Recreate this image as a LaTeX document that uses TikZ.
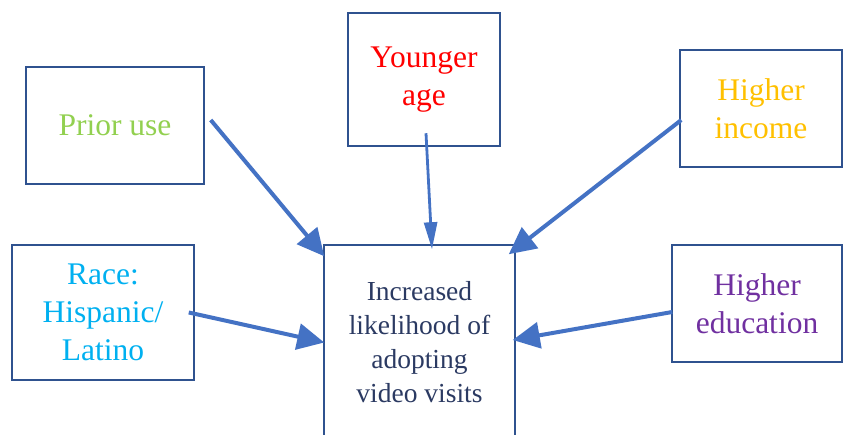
\documentclass[tikz,border=0pt]{standalone}
\usepackage{fontspec}
\setmainfont{Liberation Serif}
\usetikzlibrary{arrows.meta}
\definecolor{boxline}{HTML}{2F528F}
\definecolor{arrowblue}{HTML}{4472C4}
\definecolor{cgreen}{HTML}{92D050}
\definecolor{cred}{HTML}{FF0000}
\definecolor{cgold}{HTML}{FFC000}
\definecolor{ccyan}{HTML}{00B0F0}
\definecolor{cpurple}{HTML}{7030A0}
\definecolor{cnavy}{HTML}{2B3A62}
\tikzset{
  factor/.style={draw=boxline, line width=1.5pt, inner sep=0pt, align=center,
    font=\fontsize{31.5}{38}\selectfont},
  outcome/.style={draw=boxline, line width=1.5pt, inner sep=0pt, align=center,
    text=cnavy, font=\fontsize{27.5}{34}\selectfont},
  arr/.style={draw=arrowblue, line width=4pt, -{Triangle[length=27pt,width=26pt]}},
  thinarr/.style={draw=arrowblue, line width=2.8pt, -{Triangle[length=27pt,width=13pt]}}
}
\begin{document}
\begin{tikzpicture}[x=1pt,y=1pt]
\useasboundingbox (0,0) rectangle (843,434);
\node[factor, text=cgreen, minimum width=178pt, minimum height=117pt] (prior) at (115,308.5) {Prior use};
\node[factor, text=ccyan, minimum width=182pt, minimum height=135pt] (race) at (103,121.5) {Race:\\Hispanic/\\Latino};
\node[factor, text=cred, minimum width=152pt, minimum height=133pt] (young) at (424,354.5) {Younger\\age};
\node[factor, text=cgold, minimum width=162pt, minimum height=117pt] (income) at (761,325.5) {Higher\\income};
\node[factor, text=cpurple, minimum width=170pt, minimum height=117pt] (edu) at (757,130.5) {Higher\\education};
\node[outcome, minimum width=191pt, minimum height=195pt] (center) at (419.5,91.5) {Increased\\likelihood of\\adopting\\video visits};
\draw[arr] ([xshift=6pt,yshift=5.5pt]prior.east) -- ([xshift=1pt,yshift=-12pt]center.north west);
\draw[arr] ([xshift=-6pt]race.east) -- ([xshift=1pt]center.west);
\draw[thinarr] ([xshift=2pt,yshift=13.5pt]young.south) -- ([xshift=12.5pt,yshift=-5pt]center.north);
\draw[arr] ([xshift=2pt,yshift=-11.5pt]income.west) -- ([xshift=-7pt,yshift=-10pt]center.north east);
\draw[arr] ([xshift=1pt,yshift=-8.5pt]edu.west) -- ([xshift=-3pt,yshift=2.5pt]center.east);
\end{tikzpicture}
\end{document}
